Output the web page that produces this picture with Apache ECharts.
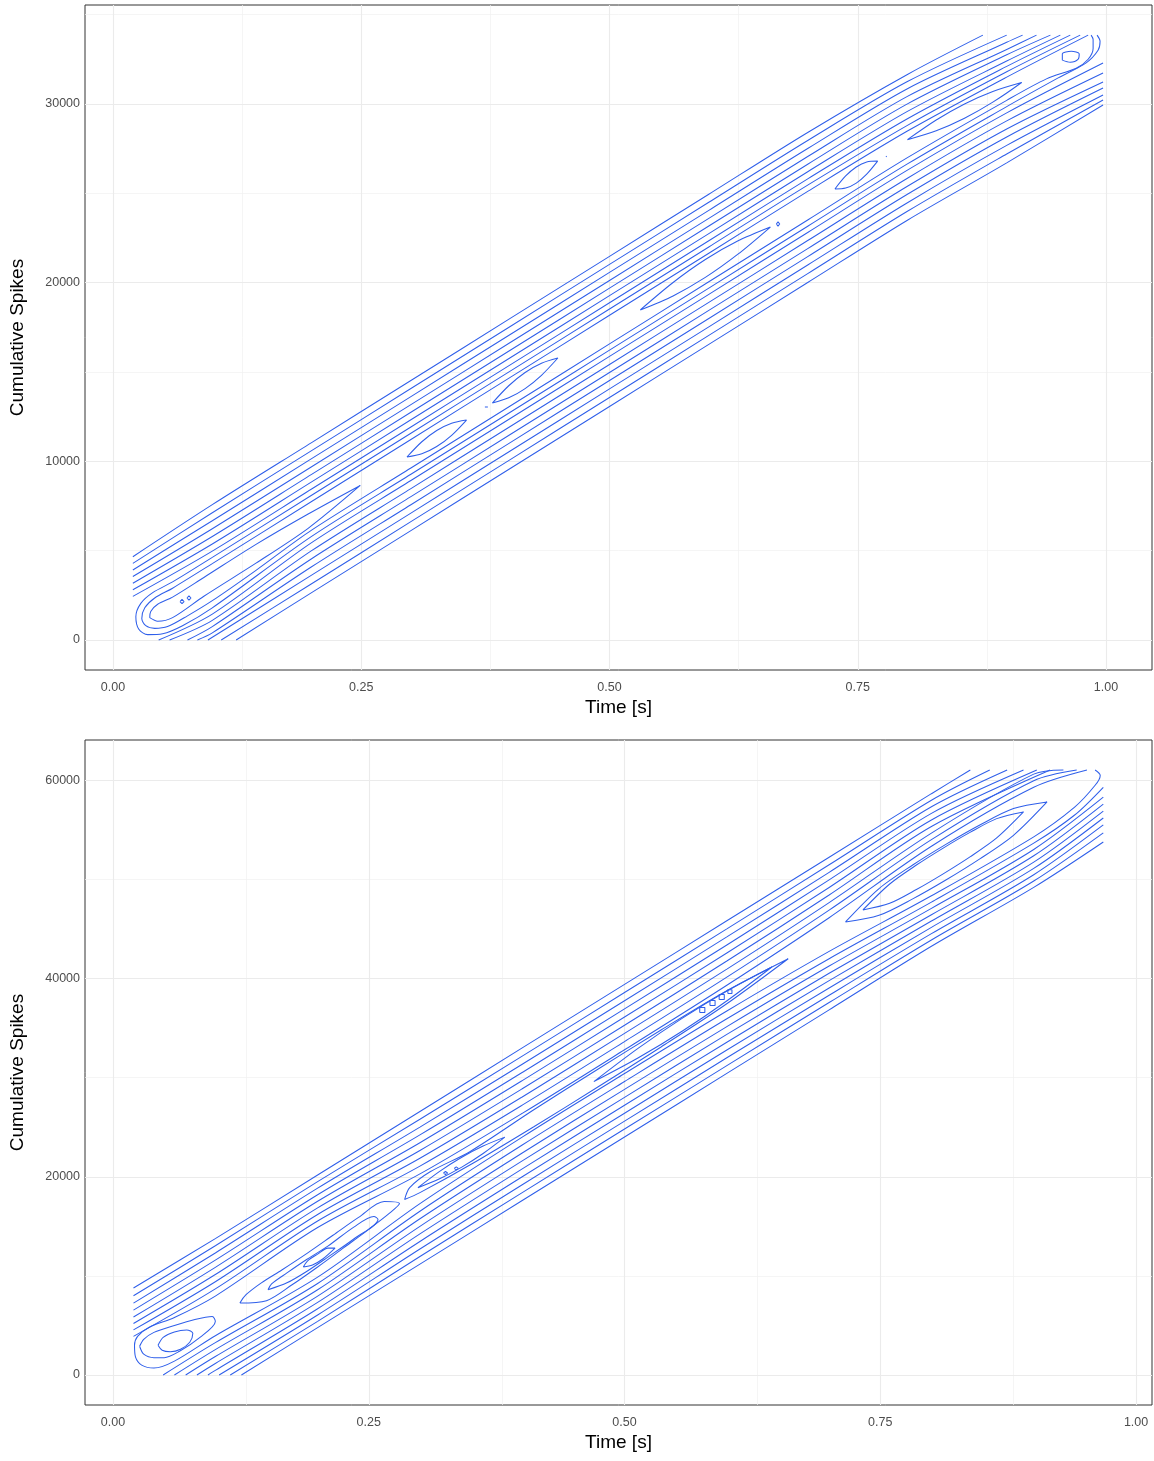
<!DOCTYPE html>
<html>
<head>
<meta charset="utf-8">
<script src="https://cdn.jsdelivr.net/npm/echarts@6/dist/echarts.min.js"></script>
<style>
  html, body { margin: 0; padding: 0; background: #ffffff; }
  #chart { width: 1154px; height: 1461px; }
</style>
</head>
<body>
<div id="chart"></div>
<script>
// ---------------- axis breaks ----------------
const timeBreaks = [0, 0.25, 0.5, 0.75, 1];
const timeMinor = [0.125, 0.375, 0.625, 0.875];
const spikeBreaksA = [0, 10000, 20000, 30000];
const spikeMinorA = [5000, 15000, 25000, 35000];
const spikeBreaksB = [0, 20000, 40000, 60000];
const spikeMinorB = [10000, 30000, 50000];

// ---------------- recording A: 2-D density contours, points are [time, spikes] ----------------
// levels above the ridge, leaving through the left and top edges (outermost first)
const ridgeA_upper = [
  [[0.02,4660],[0.1,7574],[0.2,11048],[0.3,14522],[0.4,17996],[0.5,21470],[0.6,24944],[0.7,28418],[0.8,31650],[0.876,33850]],
  [[0.02,4290],[0.1,7124],[0.2,10598],[0.3,14072],[0.4,17546],[0.5,21020],[0.6,24494],[0.7,27968],[0.8,31250],[0.9,33850]],
  [[0.02,3920],[0.1,6674],[0.2,10148],[0.3,13622],[0.4,17096],[0.5,20570],[0.6,24044],[0.7,27518],[0.8,30850],[0.9,33450],[0.916,33850]],
  [[0.02,3550],[0.1,6224],[0.2,9698],[0.3,13172],[0.4,16646],[0.5,20120],[0.6,23594],[0.7,27068],[0.8,30420],[0.9,33050],[0.93,33850]],
  [[0.02,3180],[0.1,5794],[0.2,9268],[0.3,12742],[0.4,16216],[0.5,19690],[0.6,23164],[0.7,26638],[0.8,30000],[0.9,32750],[0.944,33850]],
  [[0.02,2810],[0.1,5374],[0.2,8848],[0.3,12322],[0.4,15796],[0.5,19270],[0.6,22744],[0.7,26218],[0.8,29580],[0.9,32400],[0.954,33850]],
  [[0.02,2440],[0.1,4974],[0.2,8448],[0.3,11922],[0.4,15396],[0.5,18870],[0.6,22344],[0.7,25818],[0.8,29170],[0.9,32100],[0.964,33850]]
];
// levels below the ridge, leaving through the bottom and right edges (outermost first)
const ridgeA_lower = [
  [[0.124,0],[0.2,2648],[0.3,6122],[0.4,9596],[0.5,13070],[0.6,16544],[0.7,20018],[0.8,23492],[0.9,26700],[0.997,29940]],
  [[0.109,0],[0.2,3148],[0.3,6622],[0.4,10096],[0.5,13570],[0.6,17044],[0.7,20518],[0.8,23992],[0.9,27200],[0.997,30220]],
  [[0.0956,0],[0.2,3628],[0.3,7102],[0.4,10576],[0.5,14050],[0.6,17524],[0.7,20998],[0.8,24472],[0.9,27680],[0.997,30500]],
  [[0.085,0],[0.1,400],[0.2,4098],[0.3,7572],[0.4,11046],[0.5,14520],[0.6,17994],[0.7,21468],[0.8,24942],[0.9,28150],[0.997,30890]],
  [[0.075,0],[0.1,750],[0.2,4548],[0.3,8022],[0.4,11496],[0.5,14970],[0.6,18444],[0.7,21918],[0.8,25392],[0.9,28600],[0.997,31230]],
  [[0.057,0],[0.1,1100],[0.2,4998],[0.3,8472],[0.4,11946],[0.5,15420],[0.6,18894],[0.7,22368],[0.8,25842],[0.9,29050],[0.997,31730]],
  [[0.046,0],[0.1,1450],[0.2,5448],[0.3,8922],[0.4,12396],[0.5,15870],[0.6,19344],[0.7,22818],[0.8,26292],[0.9,29500],[0.997,32290]]
];
// innermost continuous levels: they turn around the start of the ridge and wrap its end
const ridgeA_wrapped = [
  [[0.974,33850],[0.9,31800],[0.8,28800],[0.7,25468],[0.6,21994],[0.5,18520],[0.4,15046],[0.3,11572],[0.2,8098],[0.1,4624],[0.06,3250],[0.04,2650],[0.028,2050],[0.023,1300],[0.026,600],[0.035,300],[0.05,350],[0.07,800],[0.1,1800],[0.2,5798],[0.3,9272],[0.4,12746],[0.5,16220],[0.6,19694],[0.7,23168],[0.8,26642],[0.9,29850],[0.95,31400],[0.98,32300],[0.992,33000],[0.994,33500],[0.991,33850]],
  [[0.982,33850],[0.9,31500],[0.8,28480],[0.7,25118],[0.6,21644],[0.5,18170],[0.4,14696],[0.3,11222],[0.2,7748],[0.1,4274],[0.06,2900],[0.042,2350],[0.032,1800],[0.029,1200],[0.033,800],[0.042,650],[0.055,750],[0.075,1350],[0.1,2200],[0.144,3900],[0.2,6148],[0.3,9622],[0.4,13096],[0.5,16570],[0.6,20044],[0.7,23518],[0.8,26992],[0.9,30200],[0.94,31400],[0.97,32000],[0.982,32500],[0.987,33100],[0.987,33600],[0.985,33850]]
];
// closed peaks along the ridge
const ridgeA_islands = [
  [[0.037,1250],[0.045,1050],[0.06,1250],[0.0915,2450],[0.144,4300],[0.1965,6250],[0.249,8650],[0.1965,7050],[0.144,5350],[0.0915,3500],[0.06,2400],[0.045,2000],[0.038,1600],[0.037,1250]],
  [[0.296,10240],[0.311,10420],[0.326,10825],[0.341,11455],[0.356,12310],[0.341,12130],[0.326,11725],[0.311,11095],[0.296,10240]],
  [[0.382,13260],[0.3985,13552],[0.415,14070],[0.4315,14812],[0.448,15780],[0.4315,15488],[0.415,14970],[0.3985,14228],[0.382,13260]],
  [[0.531,18470],[0.564,19255],[0.5965,20290],[0.629,21575],[0.662,23110],[0.629,22325],[0.5965,21290],[0.564,20005],[0.531,18470]],
  [[0.727,25240],[0.7378,25292],[0.7485,25570],[0.759,26072],[0.77,26800],[0.759,26748],[0.7485,26470],[0.7378,25968],[0.727,25240]],
  [[0.80,28000],[0.829,28500],[0.8575,29200],[0.886,30100],[0.915,31200],[0.886,30700],[0.8575,30000],[0.829,29100],[0.80,28000]],
  [[0.956,32450],[0.964,32330],[0.972,32500],[0.973,32800],[0.965,32950],[0.956,32800],[0.956,32450]]
];
const ridgeA_specks = [
  [[0.0675,2150],[0.0695,2270],[0.0715,2150],[0.0695,2030],[0.0675,2150]],
  [[0.0745,2350],[0.0765,2470],[0.0785,2350],[0.0765,2230],[0.0745,2350]],
  [[0.3745,13040],[0.376,13140],[0.3775,13040],[0.376,12940],[0.3745,13040]],
  [[0.668,23280],[0.6697,23400],[0.6714,23280],[0.6697,23160],[0.668,23280]],
  [[0.7785,27030],[0.779,27080],[0.7795,27030],[0.779,26980],[0.7785,27030]]
];

// ---------------- recording B: 2-D density contours, points are [time, spikes] ----------------
const ridgeB_upper = [
  [[0.02,8780],[0.1,13763],[0.2,20176],[0.3,26589],[0.4,33002],[0.5,39415],[0.6,45828],[0.7,52241],[0.8,58654],[0.838,61040]],
  [[0.02,8000],[0.1,13038],[0.2,19514],[0.3,25802],[0.4,32177],[0.5,38590],[0.6,45016],[0.7,51479],[0.8,57992],[0.857,61040]],
  [[0.02,7250],[0.1,12313],[0.2,18851],[0.3,25014],[0.4,31352],[0.5,37765],[0.6,44203],[0.7,50716],[0.8,57329],[0.874,61040]],
  [[0.02,6550],[0.1,11588],[0.2,18189],[0.3,24227],[0.4,30527],[0.5,36940],[0.6,43391],[0.7,49954],[0.8,56667],[0.89,61040]],
  [[0.02,5850],[0.1,10863],[0.2,17526],[0.3,23439],[0.4,29702],[0.5,36115],[0.6,42578],[0.7,49191],[0.8,56004],[0.903,61040]],
  [[0.02,5200],[0.1,10138],[0.2,16864],[0.3,22652],[0.4,28877],[0.5,35290],[0.6,41766],[0.7,48429],[0.8,55342],[0.916,61040]],
  [[0.02,4550],[0.1,9413],[0.2,16201],[0.3,21864],[0.4,28052],[0.5,34465],[0.6,40953],[0.7,47666],[0.8,54679],[0.9,60625],[0.929,61040]],
  [[0.02,3900],[0.1,8688],[0.2,15539],[0.3,21077],[0.4,27227],[0.5,33640],[0.6,40141],[0.7,46904],[0.8,54017],[0.9,59963],[0.942,61040]]
];
const ridgeB_lower = [
  [[0.1255,0],[0.2,4776],[0.3,11189],[0.4,17602],[0.5,24015],[0.6,30428],[0.7,36841],[0.8,43254],[0.9,49200],[0.968,53780]],
  [[0.1146,0],[0.2,5413],[0.3,11951],[0.4,18402],[0.5,24815],[0.6,31215],[0.7,37578],[0.8,43891],[0.9,49837],[0.968,54700]],
  [[0.1037,0],[0.2,6051],[0.3,12714],[0.4,19202],[0.5,25615],[0.6,32003],[0.7,38316],[0.8,44529],[0.9,50475],[0.968,55500]],
  [[0.0928,0],[0.1,463],[0.2,6688],[0.3,13476],[0.4,20002],[0.5,26415],[0.6,32790],[0.7,39053],[0.8,45166],[0.9,51112],[0.968,56200]],
  [[0.082,0],[0.1,1163],[0.2,7326],[0.3,14239],[0.4,20802],[0.5,27215],[0.6,33578],[0.7,39791],[0.8,45804],[0.9,51750],[0.968,56900]],
  [[0.071,0],[0.1,1863],[0.2,7963],[0.3,15001],[0.4,21602],[0.5,28015],[0.6,34365],[0.7,40528],[0.8,46441],[0.9,52387],[0.968,57600]],
  [[0.060,0],[0.1,2563],[0.2,8601],[0.3,15764],[0.4,22402],[0.5,28815],[0.6,35153],[0.7,41266],[0.8,47079],[0.9,53025],[0.968,58300]],
  [[0.049,0],[0.1,3263],[0.2,9238],[0.3,16526],[0.4,23202],[0.5,29615],[0.6,35940],[0.7,42003],[0.8,47716],[0.9,53662],[0.94,56500],[0.968,59300]]
];
// innermost continuous level: turns around the start of the ridge and wraps its end
const ridgeB_wrapped = [
  [[0.952,61040],[0.9,59300],[0.8,53354],[0.7,46141],[0.6,39328],[0.5,32815],[0.4,26402],[0.3,20289],[0.2,14876],[0.1,7963],[0.06,5800],[0.035,4800],[0.024,3900],[0.021,3000],[0.022,1800],[0.028,1000],[0.04,700],[0.06,1400],[0.1,3963],[0.2,9876],[0.3,17289],[0.4,24002],[0.5,30415],[0.6,36728],[0.7,42741],[0.8,48354],[0.9,54300],[0.94,57300],[0.96,59500],[0.965,60500],[0.96,61040]]
];
const ridgeB_islands = [
  [[0.026,2900],[0.03,2100],[0.04,1750],[0.05,1750],[0.065,2400],[0.085,3800],[0.1,5400],[0.097,5900],[0.08,5600],[0.06,5000],[0.04,4300],[0.03,3600],[0.026,2900]],
  [[0.044,3000],[0.048,2500],[0.056,2350],[0.066,2600],[0.075,3300],[0.078,4200],[0.072,4550],[0.06,4350],[0.049,3800],[0.044,3000]],
  [[0.124,7265],[0.15,7500],[0.175,9100],[0.2,10900],[0.225,12800],[0.25,14700],[0.27,16300],[0.28,17300],[0.265,17500],[0.24,15900],[0.215,14100],[0.19,12300],[0.165,10600],[0.145,9300],[0.13,8100],[0.124,7265]],
  [[0.1515,8600],[0.17,9300],[0.19,10500],[0.21,11900],[0.235,13700],[0.259,15700],[0.255,16000],[0.235,14900],[0.21,13000],[0.19,11700],[0.17,10300],[0.155,9200],[0.1515,8600]],
  [[0.186,10900],[0.195,11100],[0.205,11700],[0.217,12800],[0.21,12800],[0.2,12200],[0.19,11500],[0.186,10900]],
  [[0.285,17700],[0.3,18400],[0.3492,21208],[0.4113,25052],[0.4735,29030],[0.5357,33098],[0.5978,37302],[0.66,42000],[0.5978,38652],[0.5357,34808],[0.4735,30830],[0.4113,26762],[0.3492,22558],[0.31,20500],[0.29,18900],[0.285,17700]],
  [[0.298,18900],[0.31925,19800],[0.3405,20950],[0.36175,22350],[0.383,24000],[0.36175,23100],[0.3405,21950],[0.31925,20550],[0.298,18900]],
  [[0.47,29600],[0.5135,32005],[0.557,34735],[0.6005,37790],[0.644,41170],[0.6005,38766],[0.557,36035],[0.5135,32981],[0.47,29600]],
  [[0.716,45710],[0.7488,46378],[0.7817,48037],[0.8145,49965],[0.8473,52073],[0.8802,54452],[0.913,57820],[0.8802,57152],[0.8473,55493],[0.8145,53565],[0.7817,51457],[0.7488,49078],[0.716,45710]],
  [[0.733,46920],[0.7592,47593],[0.7853,48982],[0.8115,50565],[0.8377,52278],[0.8638,54187],[0.89,56810],[0.8638,56137],[0.8377,54748],[0.8115,53165],[0.7853,51452],[0.7592,49543],[0.733,46920]]
];
const ridgeB_specks = [
  [[0.323,20380],[0.325,20530],[0.327,20380],[0.325,20230],[0.323,20380]],
  [[0.3335,20850],[0.3355,21000],[0.3375,20850],[0.3355,20700],[0.3335,20850]],
  [[0.5735,36580],[0.5785,36580],[0.5785,37080],[0.5735,37080],[0.5735,36580]],
  [[0.5835,37280],[0.5885,37280],[0.5885,37780],[0.5835,37780],[0.5835,37280]],
  [[0.5925,37890],[0.5975,37890],[0.5975,38390],[0.5925,38390],[0.5925,37890]],
  [[0.601,38500],[0.605,38500],[0.605,38880],[0.601,38880],[0.601,38500]]
];

// ---------------- drawing ----------------
const FONT = '"Liberation Sans", Arial, Helvetica, sans-serif';
const CONTOUR = '#2F5FEA';

function contourSeries(paths, idx, smooth) {
  return paths.map(p => ({
    type: 'line', xAxisIndex: idx, yAxisIndex: idx, data: p,
    symbol: 'none', showSymbol: false, smooth: smooth,
    lineStyle: { color: CONTOUR, width: 1.05 },
    silent: true, animation: false, z: 3,
    emphasis: { disabled: true }
  }));
}

function gridSeries(idx, xMaj, xMin, yMaj, yMin) {
  const major = { color: '#EBEBEB', width: 1.1, type: 'solid' };
  const minor = { color: '#F1F1F1', width: 0.7, type: 'solid' };
  const data = []
    .concat(xMin.map(v => ({ xAxis: v, lineStyle: minor })))
    .concat(yMin.map(v => ({ yAxis: v, lineStyle: minor })))
    .concat(xMaj.map(v => ({ xAxis: v, lineStyle: major })))
    .concat(yMaj.map(v => ({ yAxis: v, lineStyle: major })));
  return {
    type: 'line', xAxisIndex: idx, yAxisIndex: idx, data: [],
    silent: true, animation: false,
    markLine: {
      silent: true, symbol: ['none', 'none'], label: { show: false },
      animation: false, z: 1, emphasis: { disabled: true }, data: data
    }
  };
}

function xAxisFor(idx, min, max) {
  return {
    type: 'value', gridIndex: idx, min: min, max: max,
    axisLine: { show: false },
    axisTick: { show: true, length: 4, customValues: timeBreaks, lineStyle: { color: '#333333', width: 1 } },
    axisLabel: { customValues: timeBreaks, formatter: v => v.toFixed(2), color: '#4D4D4D', fontSize: 12.5, fontFamily: FONT, margin: 11 },
    splitLine: { show: false },
    name: 'Time [s]', nameLocation: 'middle', nameGap: 28,
    nameTextStyle: { color: '#000000', fontSize: 19, fontFamily: FONT, verticalAlign: 'top' }
  };
}

function yAxisFor(idx, min, max, breaks) {
  return {
    type: 'value', gridIndex: idx, min: min, max: max,
    axisLine: { show: false },
    axisTick: { show: true, length: 4, customValues: breaks, lineStyle: { color: '#333333', width: 1 } },
    axisLabel: { customValues: breaks, formatter: v => String(Math.round(v)), color: '#4D4D4D', fontSize: 12.5, fontFamily: FONT, margin: 5 },
    splitLine: { show: false },
    name: 'Cumulative Spikes', nameLocation: 'middle', nameGap: 58, nameRotate: 90,
    nameTextStyle: { color: '#000000', fontSize: 19, fontFamily: FONT }
  };
}

const chart = echarts.init(document.getElementById('chart'), null, { renderer: 'canvas', width: 1154, height: 1461 });

const series = [
  gridSeries(0, timeBreaks, timeMinor, spikeBreaksA, spikeMinorA),
  gridSeries(1, timeBreaks, timeMinor, spikeBreaksB, spikeMinorB)
]
  .concat(contourSeries(ridgeA_upper, 0, 0.3))
  .concat(contourSeries(ridgeA_lower, 0, 0.3))
  .concat(contourSeries(ridgeA_wrapped, 0, 0.3))
  .concat(contourSeries(ridgeA_islands, 0, 0.3))
  .concat(contourSeries(ridgeA_specks, 0, false))
  .concat(contourSeries(ridgeB_upper, 1, 0.3))
  .concat(contourSeries(ridgeB_lower, 1, 0.3))
  .concat(contourSeries(ridgeB_wrapped, 1, 0.3))
  .concat(contourSeries(ridgeB_islands, 1, 0.3))
  .concat(contourSeries(ridgeB_specks, 1, false));

chart.setOption({
  animation: false,
  backgroundColor: '#ffffff',
  textStyle: { fontFamily: FONT },
  grid: [
    { left: 85, top: 5, width: 1067, height: 665, show: true, borderColor: '#333333', borderWidth: 1, backgroundColor: '#ffffff', containLabel: false },
    { left: 85, top: 740, width: 1067, height: 665, show: true, borderColor: '#333333', borderWidth: 1, backgroundColor: '#ffffff', containLabel: false }
  ],
  xAxis: [xAxisFor(0, -0.0282, 1.0463), xAxisFor(1, -0.0274, 1.0156)],
  yAxis: [yAxisFor(0, -1679, 35535, spikeBreaksA), yAxisFor(1, -3027, 64070, spikeBreaksB)],
  series: series
});
</script>
</body>
</html>
